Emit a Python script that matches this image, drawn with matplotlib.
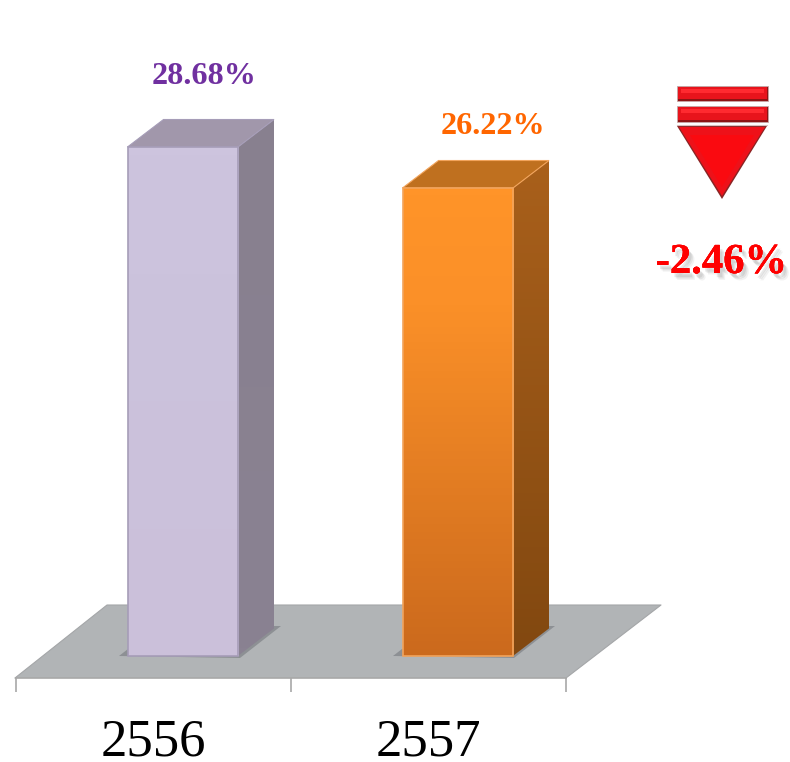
import matplotlib
matplotlib.use("Agg")
import matplotlib.pyplot as plt
import matplotlib.patheffects as pe
from matplotlib.colors import LinearSegmentedColormap
from matplotlib.patches import Polygon, Rectangle
import numpy as np

# data
years = ["2556", "2557"]
values = [28.68, 26.22]
labels = ["28.68%", "26.22%"]
change_label = "-2.46%"
base_value = -1.85

# colours per bar: front top, front middle, front bottom, side top, side bottom, roof, edge, label
front_top = ["#cdc4de", "#ff9429"]
front_mid = ["#ccc3dd", "#fb9028"]
front_bottom = ["#cbc0da", "#cb6a1d"]
side_top = ["#88808f", "#a9601b"]
side_bottom = ["#8a8292", "#824810"]
roof = ["#a197ab", "#bf701f"]
edge = ["#a69db8", "#f2a45c"]
label_color = ["#7030a0", "#ff6600"]
label_pos = [(204.5, 77), (493, 127)]

W, H = 790, 762
AXIS_PX = 678  # pixel row of the category axis
PX_PER_UNIT = 16.67
TOP_PX = 147  # pixel row of the first value
SLOT_PX = 275
FIRST_SLOT_PX = 153


def px_to_value(p):
    return values[0] - (p - TOP_PX) / PX_PER_UNIT


plt.rcParams["font.family"] = ["Liberation Serif", "DejaVu Serif"]
fig = plt.figure(figsize=(W / 100, H / 100), dpi=100)

# scenery in pixel coordinates
bg = fig.add_axes([0, 0, 1, 1], zorder=0)
bg.set_xlim(0, W)
bg.set_ylim(H, 0)
bg.axis("off")
bg.add_patch(Polygon([(15, 678), (107, 605), (661, 605), (566, 678)],
                     fc="#b1b4b6", ec="none"))
bg.plot([15, 107, 661, 566], [678, 605, 605, 678], color="#a4a6a8", lw=0.8)
for x0 in [128, 402]:
    bg.add_patch(Polygon([(x0 - 9, 656), (x0, 649), (x0 + 145, 626), (x0 + 153, 626), (x0 + 112, 658)],
                         fc="#8d9094", ec="none"))

# chart axes, x = category index, y = value
ax = fig.add_axes([0, 1 - AXIS_PX / H, 1, AXIS_PX / H], zorder=1)
ax.patch.set_alpha(0)
for s in ["top", "left", "right"]:
    ax.spines[s].set_visible(False)
ax.spines["bottom"].set_bounds(-0.5, 1.5)
ax.spines["bottom"].set_color("#a8a8a8")
ax.spines["bottom"].set_linewidth(1.2)
ax.set_yticks([])
ax.set_xticks(range(len(years)), years, fontsize=38, color="black")
ax.tick_params(axis="x", which="major", length=0, pad=29)
ax.set_xticks([-0.5, 0.5, 1.5], minor=True)
ax.tick_params(axis="x", which="minor", length=10, width=1.2, color="#a8a8a8")

bar_left = -25.5 / SLOT_PX
bar_width = 110.5 / SLOT_PX
dx = 36 / SLOT_PX
dy = 27.5 / PX_PER_UNIT

for i, v in enumerate(values):
    x0 = i + bar_left
    x1 = x0 + bar_width

    # side face with vertical gradient
    side = Polygon([(x1, base_value), (x1 + dx, base_value + dy), (x1 + dx, v + dy), (x1, v)],
                   fc="none", ec="none", zorder=2)
    ax.add_patch(side)
    cm = LinearSegmentedColormap.from_list("s", [side_top[i], side_bottom[i]])
    im = ax.imshow(np.linspace(0, 1, 64).reshape(-1, 1), cmap=cm, aspect="auto", zorder=2,
                   extent=[x1, x1 + dx, base_value, v + dy], origin="upper")
    im.set_clip_path(side)

    # roof
    ax.add_patch(Polygon([(x0, v), (x1, v), (x1 + dx, v + dy), (x0 + dx, v + dy)],
                         fc=roof[i], ec=edge[i], lw=0.8, zorder=3))

    # front face
    bar = ax.bar(x0, v - base_value, width=bar_width, bottom=base_value, align="edge",
                 fc="none", ec=edge[i], lw=1.2, zorder=5)[0]
    cm = LinearSegmentedColormap.from_list("f", [(0, front_top[i]), (0.25, front_mid[i]), (1, front_bottom[i])])
    im = ax.imshow(np.linspace(0, 1, 64).reshape(-1, 1), cmap=cm, aspect="auto", zorder=4,
                   extent=[x0, x1, base_value, v], origin="upper")
    im.set_clip_path(bar)

    bg.text(label_pos[i][0], label_pos[i][1], labels[i], ha="center", va="center",
            fontsize=23.2, fontweight="bold", color=label_color[i], zorder=6)

ax.set_xlim(-FIRST_SLOT_PX / SLOT_PX, (W - FIRST_SLOT_PX) / SLOT_PX)
ax.set_ylim(px_to_value(AXIS_PX), px_to_value(0))

# down arrow marker
for y0, y1 in [(86, 101), (106, 122)]:
    bg.add_patch(Rectangle((677, y0), 91, y1 - y0, fc="#8c1414", ec="#c9a9a9", lw=0.6))
    bg.add_patch(Rectangle((678, y0 + 1), 89, y1 - y0 - 3, fc="#e8141c", ec="none"))
    bg.add_patch(Rectangle((681, y0 + 3), 83, 4, fc="#ff2a30", ec="none"))
bg.plot([677, 767], [124.5, 124.5], color="#d9c0c0", lw=0.8)
bg.add_patch(Polygon([(677, 126), (767, 126), (722, 199)], fc="#8a2424", ec="none"))
bg.add_patch(Polygon([(679, 127), (765, 127), (722, 196)], fc="#ee1119", ec="none"))
bg.add_patch(Polygon([(690, 135), (754, 135), (722, 187)], fc="#fa0a10", ec="none"))

bg.text(721.5, 263, change_label, ha="center", va="center", fontsize=30.7, fontweight="bold",
        color="#ff0000", zorder=6,
        path_effects=[pe.withSimplePatchShadow(offset=(2, -3), shadow_rgbFace="#888888", alpha=0.18),
                      pe.withSimplePatchShadow(offset=(3, -4), shadow_rgbFace="#888888", alpha=0.15),
                      pe.withSimplePatchShadow(offset=(4, -5), shadow_rgbFace="#888888", alpha=0.1),
                      pe.Normal()])

fig.savefig("out.png", dpi=100)
plt.close(fig)
